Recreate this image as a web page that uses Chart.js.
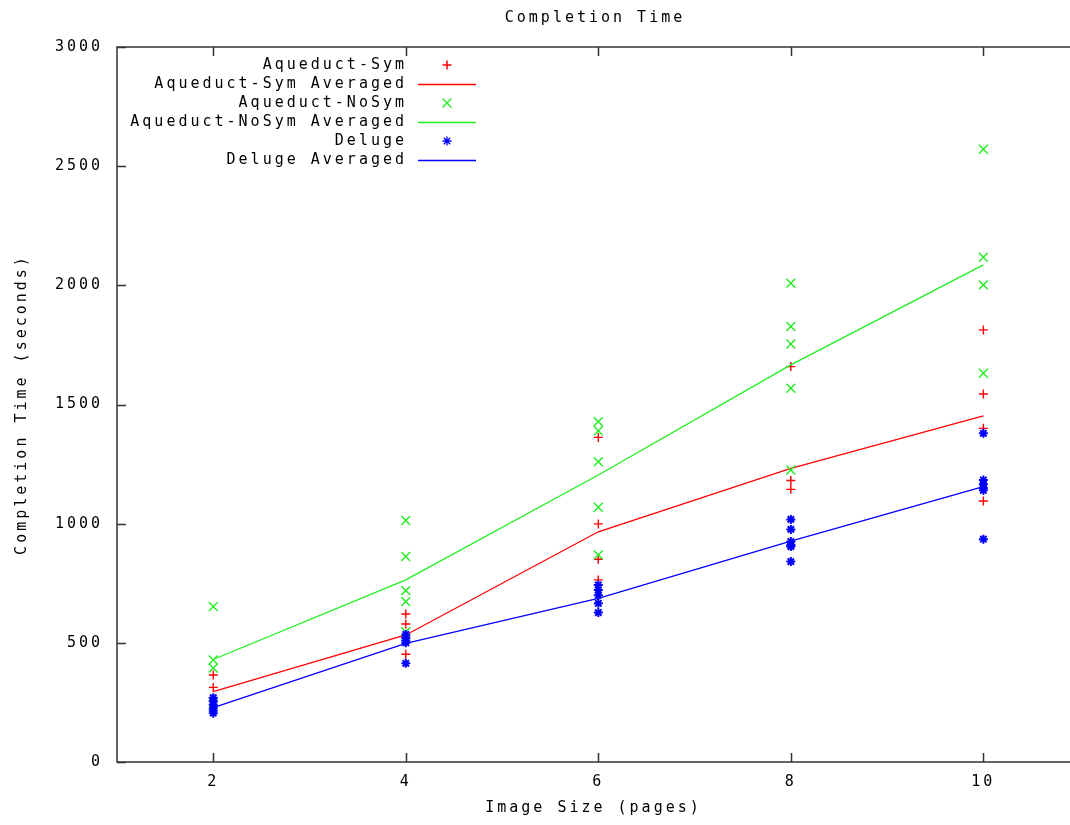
<!DOCTYPE html>
<html>
<head>
<meta charset="utf-8">
<script src="https://cdn.jsdelivr.net/npm/chart.js@4/dist/chart.umd.min.js"></script>
<style>
  html, body { margin: 0; padding: 0; background: #fff; }
  #box { width: 1070px; height: 825px; }
</style>
</head>
<body>
<div id="box"><canvas id="myChart"></canvas></div>
<script>
// image sizes (pages) and the tick labels
const sizes = [2, 4, 6, 8, 10];
const xTickLabels = ["2", "4", "6", "8", "10"];
const yTickValues = [0, 500, 1000, 1500, 2000, 2500, 3000];

// single runs, one list per image size
const symRuns = [
  [365, 313, 255],
  [621, 579, 525, 452],
  [1362, 999, 851, 764],
  [1659, 1181, 1144],
  [1813, 1544, 1400, 1095]
];
const symAvg = [295, 533, 966, 1232, 1452];

const noSymRuns = [
  [652, 428, 394, 248],
  [1013, 862, 719, 673, 547],
  [1428, 1390, 1260, 1069, 869],
  [2009, 1827, 1754, 1568, 1225],
  [2571, 2118, 2002, 1631]
];
const noSymAvg = [430, 764, 1204, 1666, 2086];

const delugeRuns = [
  [270, 255, 240, 225, 215, 205],
  [535, 520, 510, 500, 414],
  [743, 722, 700, 666, 627],
  [1018, 976, 925, 910, 904, 841],
  [1379, 1183, 1165, 1150, 1140, 935]
];
const delugeAvg = [228, 498, 687, 927, 1155];

const FONT = "'DejaVu Sans Mono', 'Liberation Mono', monospace";
const TITLE = "Completion Time";

function runs(list) {
  var pts = [];
  sizes.forEach(function (s, i) {
    list[i].forEach(function (v) { pts.push({ x: s, y: v }); });
  });
  return pts;
}
function avg(list) {
  return sizes.map(function (s, i) { return { x: s, y: list[i] }; });
}

function pointSet(label, data, color, style, r, bw, order) {
  return {
    label: label, data: data, showLine: false,
    borderColor: color, backgroundColor: color,
    pointStyle: style, pointRadius: r, pointBorderWidth: bw,
    pointHoverRadius: r, order: order
  };
}
function lineSet(label, data, color, order) {
  return {
    label: label, data: data, showLine: true,
    borderColor: color, backgroundColor: color, borderWidth: 1.3,
    pointRadius: 0, pointHoverRadius: 0, order: order
  };
}

// gnuplot look: wide mono text, inward ticks, legend with text on the left
const spacing = {
  id: "spacing",
  beforeUpdate(chart) { chart.ctx.letterSpacing = "3px"; },
  beforeDraw(chart) { chart.ctx.letterSpacing = "3px"; }
};

const frame = {
  id: "frame",
  afterDraw(chart) {
    var ctx = chart.ctx;
    var a = chart.chartArea;
    var xs = chart.scales.x, ys = chart.scales.y;
    ctx.save();
    ctx.strokeStyle = "#333";
    ctx.lineWidth = 1.5;
    ctx.beginPath();
    ctx.moveTo(a.right + 2, a.top); ctx.lineTo(a.left, a.top);
    ctx.lineTo(a.left, a.bottom); ctx.lineTo(a.right + 2, a.bottom);
    sizes.forEach(function (s) {
      var px = Math.round(xs.getPixelForValue(s)) + 0.5;
      ctx.moveTo(px, a.bottom); ctx.lineTo(px, a.bottom - 9);
      ctx.moveTo(px, a.top); ctx.lineTo(px, a.top + 9);
    });
    yTickValues.forEach(function (v) {
      var py = Math.round(ys.getPixelForValue(v)) + 0.5;
      ctx.moveTo(a.left, py); ctx.lineTo(a.left + 9, py);
    });
    ctx.stroke();

    ctx.font = "15px " + FONT;
    ctx.letterSpacing = "3px";
    ctx.textBaseline = "middle";
    ctx.fillStyle = "#000";

    // title, centred over the plot area like gnuplot does
    ctx.textAlign = "center";
    ctx.fillText(TITLE, (a.left + a.right) / 2 + 1.5, 18);

    // legend
    ctx.textAlign = "right";
    chart.data.datasets.forEach(function (ds, i) {
      var y = 65 + i * 19;
      ctx.fillStyle = "#000";
      ctx.fillText(ds.label, 407, y);
      ctx.strokeStyle = ds.borderColor;
      ctx.fillStyle = ds.borderColor;
      if (ds.showLine) {
        ctx.lineWidth = 1.3;
        ctx.beginPath();
        ctx.moveTo(418, y + 0.5); ctx.lineTo(476, y + 0.5);
        ctx.stroke();
      } else {
        Chart.helpers.drawPoint(ctx, {
          pointStyle: ds.pointStyle, radius: ds.pointRadius,
          rotation: 0, borderWidth: ds.pointBorderWidth
        }, 447, y);
      }
    });
    ctx.restore();
  }
};

new Chart("myChart", {
  type: "scatter",
  data: {
    datasets: [
      pointSet("Aqueduct-Sym", runs(symRuns), "#ff0000", "cross", 4.5, 1.4, 6),
      lineSet("Aqueduct-Sym Averaged", avg(symAvg), "#ff0000", 5),
      pointSet("Aqueduct-NoSym", runs(noSymRuns), "#22ee22", "crossRot", 6.3, 1.4, 4),
      lineSet("Aqueduct-NoSym Averaged", avg(noSymAvg), "#22ee22", 3),
      pointSet("Deluge", runs(delugeRuns), "#0000ff", "star", 4.5, 2, 2),
      lineSet("Deluge Averaged", avg(delugeAvg), "#0000ff", 1)
    ]
  },
  options: {
    responsive: true,
    maintainAspectRatio: false,
    animation: false,
    layout: { autoPadding: false, padding: { top: 47, left: 0, right: 0, bottom: 0 } },
    plugins: {
      legend: { display: false },
      tooltip: { enabled: false },
      title: { display: false }
    },
    scales: {
      x: {
        type: "linear",
        min: 1,
        max: 10.9,
        grid: { display: false, drawTicks: false },
        border: { display: false },
        afterBuildTicks: function (scale) {
          scale.ticks = sizes.map(function (s) { return { value: s }; });
        },
        afterFit: function (scale) {
          scale.height = 63;
          scale.paddingLeft = 0;
          scale.paddingRight = 0;
        },
        ticks: {
          color: "#000",
          padding: 11,
          maxRotation: 0,
          autoSkip: false,
          font: { family: FONT, size: 15 },
          callback: function (v) { return xTickLabels[sizes.indexOf(v)]; }
        },
        title: {
          display: true,
          text: "Image Size (pages)",
          color: "#000",
          font: { family: FONT, size: 15 },
          padding: { top: 0, bottom: 8 }
        }
      },
      y: {
        min: 0,
        max: 3000,
        grid: { display: false, drawTicks: false },
        border: { display: false },
        afterBuildTicks: function (scale) {
          scale.ticks = yTickValues.map(function (v) { return { value: v }; });
        },
        afterFit: function (scale) {
          scale.width = 117;
          scale.paddingTop = 0;
          scale.paddingBottom = 0;
        },
        ticks: {
          color: "#000",
          padding: 14,
          font: { family: FONT, size: 15 },
          callback: function (v) { return String(v); }
        },
        title: {
          display: true,
          text: "Completion Time (seconds)",
          color: "#000",
          font: { family: FONT, size: 15 },
          padding: { top: 13, bottom: 0 }
        }
      }
    }
  },
  plugins: [spacing, frame]
});
</script>
</body>
</html>
